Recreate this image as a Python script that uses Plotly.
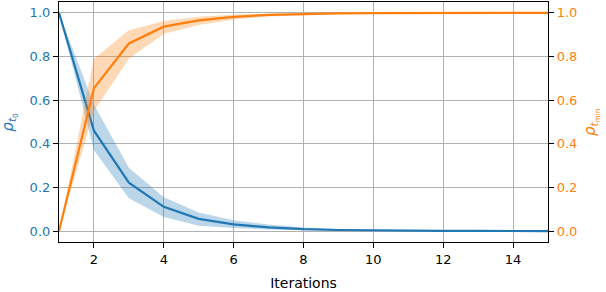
import plotly.graph_objects as go

iterations = list(range(1, 16))
rho_t0_mean = [1.0, 0.46, 0.222, 0.111, 0.056, 0.031, 0.017, 0.009, 0.005, 0.003, 0.002, 0.001, 0.0006, 0.0003, 0.0002]
rho_t0_low = [1.0, 0.37, 0.15, 0.065, 0.025, 0.014, 0.007, 0.003, 0.0015, 0.0008, 0.0005, 0.0002, 0.0001, 0.0, 0.0]
rho_t0_high = [1.0, 0.58, 0.29, 0.155, 0.085, 0.05, 0.03, 0.017, 0.01, 0.006, 0.004, 0.002, 0.0012, 0.0007, 0.0004]
rho_tmin_mean = [0.0, 0.655, 0.86, 0.937, 0.966, 0.982, 0.991, 0.995, 0.998, 0.999, 0.9995, 1.0, 1.0, 1.0, 1.0]
rho_tmin_low = [0.0, 0.55, 0.79, 0.905, 0.945, 0.97, 0.984, 0.991, 0.995, 0.997, 0.998, 0.999, 0.9995, 0.9997, 0.9998]
rho_tmin_high = [0.0, 0.79, 0.92, 0.963, 0.982, 0.992, 0.996, 0.998, 0.999, 1.0, 1.0, 1.0, 1.0, 1.0, 1.0]

blue = "#1f77b4"
orange = "#ff7f0e"
font = "DejaVu Sans"

fig = go.Figure()
fig.add_trace(go.Scatter(x=iterations, y=rho_t0_high, mode="lines", line=dict(width=0),
                         showlegend=False, hoverinfo="skip"))
fig.add_trace(go.Scatter(x=iterations, y=rho_t0_low, mode="lines", line=dict(width=0),
                         fill="tonexty", fillcolor="rgba(31,119,180,0.3)", showlegend=False, hoverinfo="skip"))
fig.add_trace(go.Scatter(x=iterations, y=rho_t0_mean, mode="lines", line=dict(color=blue, width=2.2),
                         showlegend=False))
fig.add_trace(go.Scatter(x=iterations, y=rho_tmin_high, mode="lines", line=dict(width=0),
                         showlegend=False, hoverinfo="skip", yaxis="y2"))
fig.add_trace(go.Scatter(x=iterations, y=rho_tmin_low, mode="lines", line=dict(width=0),
                         fill="tonexty", fillcolor="rgba(255,127,14,0.3)", showlegend=False, hoverinfo="skip", yaxis="y2"))
fig.add_trace(go.Scatter(x=iterations, y=rho_tmin_mean, mode="lines", line=dict(color=orange, width=2.2),
                         showlegend=False, yaxis="y2"))

fig.update_layout(
    width=606, height=292,
    margin=dict(l=59, r=58, t=2, b=50, autoexpand=False),
    paper_bgcolor="white", plot_bgcolor="white",
    font=dict(family=font, size=13, color="black"),
    xaxis=dict(range=[1, 15], tickvals=[2, 4, 6, 8, 10, 12, 14], showgrid=True, gridcolor="#b0b0b0",
               gridwidth=1.1, zeroline=False, showline=True, linecolor="black", linewidth=1.2, mirror=True,
               ticks="outside", ticklen=5, tickcolor="black", automargin=False,
               title=dict(text="Iterations", font=dict(size=14), standoff=12)),
    yaxis=dict(range=[-0.05, 1.05], tickvals=[0, 0.2, 0.4, 0.6, 0.8, 1.0], tickformat=".1f",
               showgrid=True, gridcolor="#b0b0b0", gridwidth=1.1, zeroline=False,
               showline=True, linecolor="black", linewidth=1.2, automargin=False,
               ticks="outside", ticklen=5, tickcolor="black", tickfont=dict(color=blue)),
    yaxis2=dict(range=[-0.05, 1.05], tickvals=[0, 0.2, 0.4, 0.6, 0.8, 1.0], tickformat=".1f",
                overlaying="y", side="right", showgrid=False, zeroline=False,
                showline=True, linecolor="black", linewidth=1.2, automargin=False,
                ticks="outside", ticklen=5, tickcolor="black", tickfont=dict(color=orange)),
    annotations=[
        dict(text="<i>ρ</i><sub><i>t</i><sub>0</sub></sub>", xref="paper", yref="paper",
             x=-0.103, y=0.5, xanchor="center", yanchor="middle", textangle=-90, showarrow=False,
             font=dict(color=blue, size=15)),
        dict(text="<i>ρ</i><sub><i>t</i><sub>min</sub></sub>", xref="paper", yref="paper",
             x=1.088, y=0.5, xanchor="center", yanchor="middle", textangle=-90, showarrow=False,
             font=dict(color=orange, size=15)),
    ],
)

fig.write_html("out.html", config={"displayModeBar": False},
               post_script="document.body.style.margin='0';document.body.style.padding='0';")
